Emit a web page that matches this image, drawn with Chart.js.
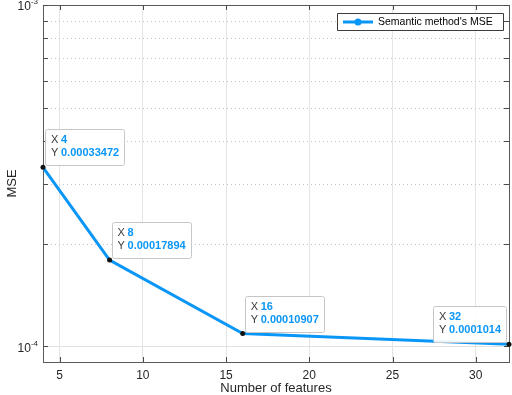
<!DOCTYPE html>
<html>
<head>
<meta charset="utf-8">
<script src="https://cdn.jsdelivr.net/npm/chart.js@4/dist/chart.umd.min.js"></script>
<style>
  html, body { margin: 0; padding: 0; background: #fff; }
  #wrap { width: 512px; height: 395px; }
</style>
</head>
<body>
<div id="wrap"><canvas id="mseCanvas" width="512" height="395"></canvas></div>
<script>
// Data
var features = [4, 8, 16, 32];
var mseValues = [0.00033472, 0.00017894, 0.00010907, 0.0001014];
var xTicks = [5, 10, 15, 20, 25, 30];
var yTicks = [1e-4, 2e-4, 3e-4, 4e-4, 5e-4, 6e-4, 7e-4, 8e-4, 9e-4, 1e-3];
var yLabelTicks = [{value: 1e-4, exp: '-4'}, {value: 1e-3, exp: '-3'}];
var seriesName = "Semantic method's MSE";

var lineBlue = '#0a96f7';
var fontFamily = '"Liberation Sans", Arial, Helvetica, sans-serif';

function font(size, bold) {
  return (bold ? 'bold ' : '') + size + 'px ' + fontFamily;
}

var axesPlugin = {
  id: 'matlabAxes',
  beforeDatasetsDraw: function(chart) {
    var ctx = chart.ctx;
    var area = chart.chartArea;
    var y = chart.scales.y;
    ctx.save();
    // y grid: dotted minor lines, solid at the decade
    yTicks.forEach(function(v) {
      var py = Math.round(y.getPixelForValue(v)) + 0.5;
      ctx.beginPath();
      ctx.lineWidth = 1;
      if (v === 1e-4) {
        ctx.setLineDash([]);
        ctx.strokeStyle = '#e2e2e2';
      } else {
        ctx.setLineDash([1, 3]);
        ctx.strokeStyle = '#c4c4c4';
      }
      ctx.moveTo(area.left, py);
      ctx.lineTo(area.right, py);
      ctx.stroke();
    });
    ctx.setLineDash([]);

    // axes box
    ctx.strokeStyle = '#5a5a5a';
    ctx.lineWidth = 1;
    ctx.strokeRect(area.left + 0.5, area.top + 0.5,
        area.right - area.left, area.bottom - area.top);

    // inward tick marks on all four sides
    ctx.strokeStyle = '#4a4a4a';
    var x = chart.scales.x;
    xTicks.forEach(function(v) {
      var px = Math.round(x.getPixelForValue(v)) + 0.5;
      ctx.beginPath();
      ctx.moveTo(px, area.bottom);
      ctx.lineTo(px, area.bottom - 5);
      ctx.moveTo(px, area.top);
      ctx.lineTo(px, area.top + 5);
      ctx.stroke();
    });
    yTicks.forEach(function(v) {
      var py = Math.round(y.getPixelForValue(v)) + 0.5;
      ctx.beginPath();
      ctx.moveTo(area.left, py);
      ctx.lineTo(area.left + 5, py);
      ctx.moveTo(area.right, py);
      ctx.lineTo(area.right - 5, py);
      ctx.stroke();
    });

    // y tick labels as 10 with a superscript exponent
    ctx.fillStyle = '#262626';
    ctx.textBaseline = 'middle';
    ctx.textAlign = 'left';
    yLabelTicks.forEach(function(t) {
      var py = y.getPixelForValue(t.value);
      var xr = area.left - 5;
      ctx.font = font(8);
      var supW = ctx.measureText(t.exp).width;
      ctx.font = font(12);
      var baseW = ctx.measureText('10').width;
      ctx.fillText('10', xr - supW - baseW, py + 2);
      ctx.font = font(8);
      ctx.fillText(t.exp, xr - supW, py - 3);
    });
    ctx.restore();
  },
  afterDatasetsDraw: function(chart) {
    var ctx = chart.ctx;
    var area = chart.chartArea;
    var meta = chart.getDatasetMeta(0);
    ctx.save();

    // data tips
    meta.data.forEach(function(pt, i) {
      var xText = String(features[i]);
      var yText = String(mseValues[i]);
      ctx.font = font(11, true);
      var w = 16 + Math.max(ctx.measureText(xText).width,
          ctx.measureText(yText).width) + 5;
      var h = 36;
      var left = pt.x + 2;
      if (left + w > area.right) left = pt.x - 3 - w;
      var top = pt.y - 2 - h;

      ctx.beginPath();
      ctx.roundRect(Math.round(left) + 0.5, Math.round(top) + 0.5, Math.round(w), h, 2);
      ctx.fillStyle = 'rgba(255,255,255,0.92)';
      ctx.fill();
      ctx.strokeStyle = '#c6c6c6';
      ctx.lineWidth = 1;
      ctx.stroke();

      ctx.textBaseline = 'middle';
      ctx.textAlign = 'left';
      ctx.font = font(11);
      ctx.fillStyle = '#3a3a3a';
      ctx.fillText('X', left + 6, top + 11);
      ctx.fillText('Y', left + 6, top + 24);
      ctx.font = font(11, true);
      ctx.fillStyle = lineBlue;
      ctx.fillText(xText, left + 16, top + 11);
      ctx.fillText(yText, left + 16, top + 24);

      // data tip marker
      ctx.beginPath();
      ctx.arc(pt.x, pt.y, 2.5, 0, Math.PI * 2);
      ctx.fillStyle = '#111';
      ctx.fill();
    });

    // legend box (line + marker sample)
    var lx = area.right - 172, ly = area.top + 8;
    ctx.font = font(10.5);
    var lw = 41 + ctx.measureText(seriesName).width + 10;
    ctx.beginPath();
    ctx.rect(Math.round(lx) + 0.5, Math.round(ly) + 0.5, Math.round(lw), 17);
    ctx.fillStyle = '#fff';
    ctx.fill();
    ctx.strokeStyle = '#3c3c3c';
    ctx.stroke();
    ctx.beginPath();
    ctx.strokeStyle = lineBlue;
    ctx.lineWidth = 3;
    ctx.moveTo(lx + 6, ly + 9);
    ctx.lineTo(lx + 36, ly + 9);
    ctx.stroke();
    ctx.beginPath();
    ctx.arc(lx + 21, ly + 9, 3.5, 0, Math.PI * 2);
    ctx.fillStyle = lineBlue;
    ctx.fill();
    ctx.fillStyle = '#000';
    ctx.textBaseline = 'middle';
    ctx.fillText(seriesName, lx + 41, ly + 9.5);
    ctx.restore();
  }
};

function createChart() {
  var ctx = document.getElementById('mseCanvas').getContext('2d');
  return new Chart(ctx, {
    type: 'line',
    data: {
      datasets: [{
        label: seriesName,
        data: features.map(function(f, i) { return {x: f, y: mseValues[i]}; }),
        borderColor: lineBlue,
        backgroundColor: lineBlue,
        borderWidth: 3,
        pointRadius: 0,
        clip: false,
        tension: 0,
      }]
    },
    options: {
      responsive: false,
      devicePixelRatio: 1,
      animation: false,
      layout: {padding: {top: 5, right: 3, left: 0, bottom: 0}},
      plugins: {
        legend: {display: false},
        tooltip: {enabled: false},
      },
      scales: {
        x: {
          type: 'linear',
          min: 4,
          max: 32,
          afterBuildTicks: function(scale) {
            scale.ticks = xTicks.map(function(v) { return {value: v}; });
          },
          afterFit: function(scale) { scale.height = 33; },
          grid: {color: '#e4e4e4', lineWidth: 1, drawTicks: false},
          border: {display: false},
          ticks: {
            padding: 6,
            color: '#262626',
            font: {family: fontFamily, size: 12},
            maxRotation: 0,
          },
          title: {
            display: true,
            text: 'Number of features',
            color: '#262626',
            font: {family: fontFamily, size: 13, lineHeight: 1},
            padding: {top: 0, bottom: 0},
          },
        },
        y: {
          type: 'logarithmic',
          min: 9e-5,
          max: 1e-3,
          afterBuildTicks: function(scale) {
            scale.ticks = yTicks.map(function(v) { return {value: v}; });
          },
          afterFit: function(scale) { scale.width = 43; },
          grid: {display: false},
          border: {display: false},
          ticks: {display: false},
          title: {
            display: true,
            text: 'MSE',
            color: '#262626',
            font: {family: fontFamily, size: 13, lineHeight: 1},
            padding: {top: 6, bottom: 0},
          },
        }
      }
    },
    plugins: [axesPlugin]
  });
}

createChart();
</script>
</body>
</html>
